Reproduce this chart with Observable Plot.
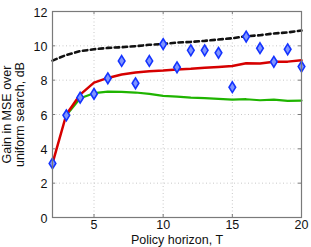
<!DOCTYPE html>
<html>
<head>
<meta charset="utf-8">
<script src="https://cdn.jsdelivr.net/npm/d3@7"></script>
<script src="https://cdn.jsdelivr.net/npm/@observablehq/plot@0.6"></script>
<style>
  html, body { margin: 0; padding: 0; background: #fff; }
  #chart svg { display: block; }
</style>
</head>
<body>
<div id="chart"></div>
<script>
// Data
const horizonT = [2, 3, 4, 5, 6, 7, 8, 9, 10, 11, 12, 13, 14, 15, 16, 17, 18, 19, 20];
const simulatedGain = [3.15, 5.95, 6.98, 7.2, 8.11, 9.12, 7.82, 9.12, 10.1, 8.75, 9.74, 9.74, 9.59, 7.59, 10.54, 9.86, 9.07, 9.8, 8.79];
const redGain = [3.15, 6.0, 7.16, 7.86, 8.13, 8.33, 8.44, 8.52, 8.56, 8.62, 8.66, 8.72, 8.77, 8.83, 8.99, 8.97, 9.07, 9.08, 9.16];
const greenT = [3, 4, 5, 6, 7, 8, 9, 10, 11, 12, 13, 14, 15, 16, 17, 18, 19, 20];
const greenGain = [5.95, 6.95, 7.24, 7.33, 7.32, 7.28, 7.2, 7.08, 7.04, 6.98, 6.95, 6.91, 6.87, 6.89, 6.83, 6.87, 6.79, 6.81];
const upperGain = [9.14, 9.47, 9.69, 9.8, 9.88, 9.92, 9.98, 10.06, 10.11, 10.19, 10.23, 10.29, 10.37, 10.44, 10.56, 10.62, 10.72, 10.78, 10.89];
const xTicks = [5, 10, 15, 20];
const yTicks = [0, 2, 4, 6, 8, 10, 12];

const simData = horizonT.map((t, i) => ({t, g: simulatedGain[i]}));
const redData = horizonT.map((t, i) => ({t, g: redGain[i]}));
const greenData = greenT.map((t, i) => ({t, g: greenGain[i]}));
const upperData = horizonT.map((t, i) => ({t, g: upperGain[i]}));

// tall diamond marker
const tallDiamond = {
  draw(context, size) {
    const h = Math.sqrt(size) * 0.72;
    const w = h * 0.62;
    context.moveTo(0, -h);
    context.lineTo(w, 0);
    context.lineTo(0, h);
    context.lineTo(-w, 0);
    context.closePath();
  }
};

const W = 311, H = 247;
const mL = 52, mR = 10, mT = 11, mB = 30;
const frameColor = "#7a7a7a";
const gridColor = "#c8c8c8";

const chart = Plot.plot({
  width: W,
  height: H,
  marginLeft: mL,
  marginRight: mR,
  marginTop: mT,
  marginBottom: mB,
  style: {fontFamily: "'Liberation Sans', Arial, sans-serif", fontSize: "12.5px", color: "#111", background: "#fff"},
  x: {domain: [2, 20], ticks: xTicks},
  y: {domain: [0, 12], ticks: yTicks},
  marks: [
    // dotted grid
    Plot.ruleX(xTicks.filter(d => d < 20), {stroke: gridColor, strokeDasharray: "1,2.5", strokeWidth: 1}),
    Plot.ruleY(yTicks.filter(d => d > 0 && d < 12), {stroke: gridColor, strokeDasharray: "1,2.5", strokeWidth: 1}),
    // axes
    Plot.axisX(xTicks, {tickSize: 0, tickPadding: 3, label: "Policy horizon, T", labelAnchor: "center", labelArrow: "none", labelOffset: 26, fontSize: 12.5}),
    Plot.axisY(yTicks, {tickSize: 0, tickPadding: 5, label: "Gain in MSE over\nuniform search, dB", labelAnchor: "center", labelArrow: "none", labelOffset: 50, fontSize: 12.5, lineHeight: 1.3}),
    // inner ticks
    Plot.tickY(yTicks, {y: d => d, stroke: frameColor, insetRight: W - mL - mR - 3}),
    Plot.tickY(yTicks, {y: d => d, stroke: frameColor, insetLeft: W - mL - mR - 3}),
    Plot.tickX(xTicks, {x: d => d, stroke: frameColor, insetTop: H - mT - mB - 3}),
    Plot.tickX(xTicks, {x: d => d, stroke: frameColor, insetBottom: H - mT - mB - 3}),
    // lines
    Plot.line(upperData, {x: "t", y: "g", stroke: "#111", strokeWidth: 2.6, strokeDasharray: "4.5,3.5"}),
    Plot.line(greenData, {x: "t", y: "g", stroke: "#1fb400", strokeWidth: 2.2}),
    Plot.line(redData, {x: "t", y: "g", stroke: "#d60000", strokeWidth: 2.5}),
    Plot.dot(simData, {x: "t", y: "g", symbol: tallDiamond, r: 4.2, fill: "#7f95ff", stroke: "#1433ff", strokeWidth: 1.6}),
    Plot.frame({stroke: frameColor, strokeWidth: 1.2})
  ]
});

document.getElementById("chart").appendChild(chart);
</script>
</body>
</html>
